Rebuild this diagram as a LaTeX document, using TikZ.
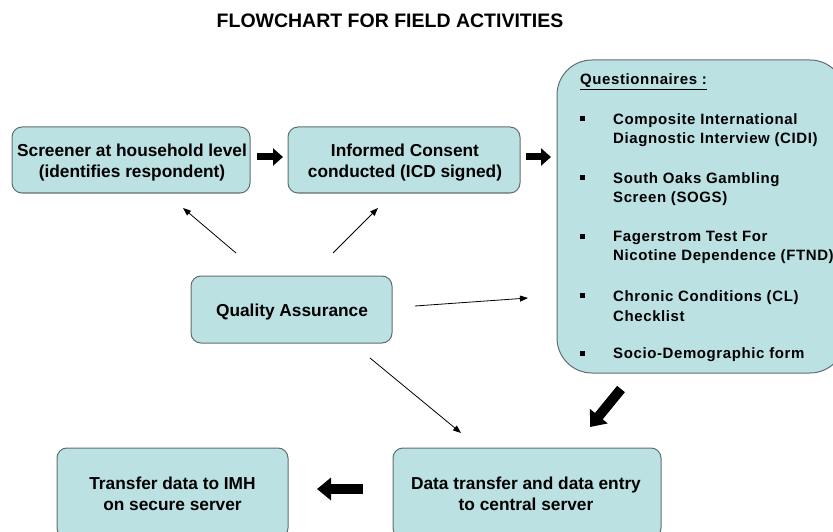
\documentclass[tikz,border=0pt]{standalone}
\usepackage{fontspec}
\setmainfont{Liberation Sans}
\usetikzlibrary{arrows.meta}
\definecolor{boxfill}{HTML}{BCE1E3}
\definecolor{boxline}{HTML}{5F6F70}
\tikzset{
  box/.style={draw=boxline, fill=boxfill, line width=1pt, rounded corners=10pt, inner sep=0pt},
  boxtext/.style={align=center, inner sep=0pt, font=\bfseries\fontsize{17.3}{21}\selectfont},
  thinarrow/.style={-{Triangle[length=8pt,width=6pt]}, line width=0.8pt},
  fatarrow/.style={-{Triangle[length=10pt,width=17pt]}, line width=7pt},
  bigarrow/.style={-{Triangle[length=14pt,width=22pt]}, line width=10pt},
  qtext/.style={anchor=west, align=left, inner sep=0pt, font=\bfseries\fontsize{15}{19.5}\selectfont\addfontfeature{LetterSpace=4}},
  qbullet/.style={fill=black, minimum size=5pt, inner sep=0pt},
}
\begin{document}
\begin{tikzpicture}[x=1pt,y=-1pt]
\useasboundingbox (0,0) rectangle (833,532);
\clip (0,0) rectangle (833,532);
\node[font=\bfseries\fontsize{19.5}{23}\selectfont] (title) at (390,21) {FLOWCHART FOR FIELD ACTIVITIES};

\node[box, minimum width=238pt, minimum height=66pt] (scr) at (131,160) {};
\node[box, minimum width=232pt, minimum height=66pt] (inf) at (404,160) {};
\node[box, minimum width=201pt, minimum height=67pt] (qa) at (291.5,309.5) {};
\node[box, minimum width=288pt, minimum height=313pt, rounded corners=35pt] (q) at (701,216.5) {};
\node[box, minimum width=268pt, minimum height=90pt] (dt) at (527,493) {};
\node[box, minimum width=231pt, minimum height=90pt] (tr) at (172.5,493) {};

\node[boxtext] (scrt) at (132,163) {Screener at household level\\(identifies respondent)};
\node[boxtext] (inft) at (405,163) {Informed Consent\\conducted (ICD signed)};
\node[boxtext] (qat) at (292,312) {Quality Assurance};
\node[boxtext] (dtt) at (526,494) {Data transfer and data entry\\to central server};
\node[boxtext] (trt) at (172.5,494) {Transfer data to IMH\\on secure server};

% questionnaire contents
\node[qtext] (qh) at (580,82) {\underline{Questionnaires :}};
\node[qbullet] (b1) at (582,119) {};
\node[qbullet] (b2) at (582,178) {};
\node[qbullet] (b3) at (582,236) {};
\node[qbullet] (b4) at (582,295) {};
\node[qbullet] (b5) at (582,353) {};
\node[qtext] (i1) at (613,130) {Composite International\\Diagnostic Interview (CIDI)};
\node[qtext] (i2) at (613,189) {South Oaks Gambling\\Screen (SOGS)};
\node[qtext] (i3) at (613,247.5) {Fagerstrom Test For\\Nicotine Dependence (FTND)};
\node[qtext] (i4) at (613,306) {Chronic Conditions (CL)\\Checklist};
\node[qtext] (i5) at (613,355) {Socio-Demographic form};

% fat arrows
\coordinate (f1s) at (257,157); \coordinate (f1e) at (283,157);
\coordinate (f2s) at (526,157); \coordinate (f2e) at (551,157);
\coordinate (f3s) at (621,389); \coordinate (f3e) at (590,427);
\coordinate (f4s) at (363,489); \coordinate (f4e) at (317,489);
\draw[fatarrow] (f1s) -- (f1e);
\draw[fatarrow] (f2s) -- (f2e);
\draw[bigarrow] (f3s) -- (f3e);
\draw[bigarrow] (f4s) -- (f4e);

% thin arrows from quality assurance
\coordinate (t1s) at (236,253); \coordinate (t1e) at (183,208);
\coordinate (t2s) at (333,253); \coordinate (t2e) at (378,208);
\coordinate (t3s) at (415,306); \coordinate (t3e) at (528,298);
\coordinate (t4s) at (370,358); \coordinate (t4e) at (461,433);
\draw[thinarrow] (t1s) -- (t1e);
\draw[thinarrow] (t2s) -- (t2e);
\draw[thinarrow] (t3s) -- (t3e);
\draw[thinarrow] (t4s) -- (t4e);
\end{tikzpicture}
\end{document}
